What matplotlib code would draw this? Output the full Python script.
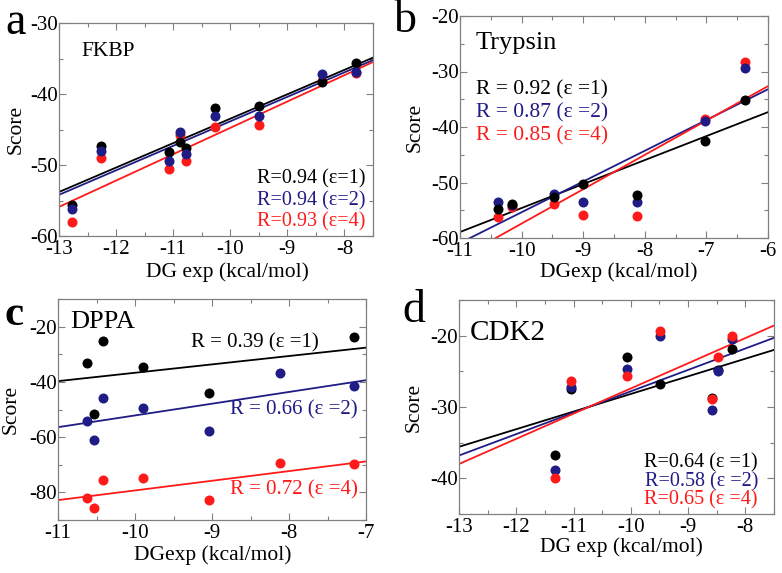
import numpy as np
import matplotlib
matplotlib.use("Agg")
import matplotlib.pyplot as plt
from matplotlib.ticker import MultipleLocator

plt.rcParams["font.family"] = ["Liberation Serif", "DejaVu Serif"]
plt.rcParams["axes.unicode_minus"] = False

# colours for eps = 1, 2, 4
colors = ["black", "#1f1c86", "#ff1a1a"]

# --- panel a: FKBP ---
a_dg = [-12.77, -12.26, -11.07, -10.88, -10.78, -10.27, -9.49, -8.39, -7.80]
a_e1 = [-55.7, -47.3, -48.1, -46.8, -47.6, -42.0, -41.7, -38.3, -35.7]
a_e2 = [-56.2, -48.0, -49.4, -45.4, -48.4, -43.1, -43.1, -37.2, -36.9]
a_e4 = [-58.0, -49.0, -50.5, -45.8, -49.4, -44.6, -44.4, -38.1, -37.0]
a_slope = [3.44, 3.45, 3.71]
a_icept = [-9.08, -9.35, -7.67]
a_r = ["R=0.94 (ε=1)", "R=0.94 (ε=2)", "R=0.93 (ε=4)"]

# --- panel b: Trypsin ---
b_dg = [-10.38, -10.15, -9.47, -9.01, -8.12, -7.02, -6.37]
b_e1 = [-54.7, -53.9, -52.6, -50.2, -52.2, -42.6, -35.2]
b_e2 = [-53.5, -54.0, -52.0, -53.5, -53.5, -38.9, -29.4]
b_e4 = [-56.3, -54.4, -53.8, -55.9, -56.1, -38.5, -28.2]
b_slope = [4.32, 5.54, 6.19]
b_icept = [-11.4, 0.04, 4.5]
b_r = ["R = 0.92 (ε =1)", "R = 0.87 (ε =2)", "R = 0.85 (ε =4)"]

# --- panel c: DPPA ---
c_dg = [-10.62, -10.53, -10.41, -9.89, -9.04, -8.12, -7.16]
c_e1 = [-33.3, -51.5, -25.2, -34.7, -44.1, np.nan, -23.7]  # one point not visible
c_e2 = [-54.3, -61.0, -46.0, -49.4, -57.9, -36.7, -41.6]
c_e4 = [-82.2, -85.6, -75.7, -74.7, -82.8, -69.5, -69.7]
c_slope = [3.03, 4.25, 3.5]
c_icept = [-6.4, -9.65, -44.3]
c_r = ["R = 0.39 (ε =1)", "R = 0.66 (ε =2)", "R = 0.72 (ε =4)"]

# --- panel d: CDK2 ---
d_dg = [-11.32, -11.04, -10.06, -9.49, -8.58, -8.47, -8.24]
d_e1 = [-36.7, -27.5, -23.0, -26.8, -28.8, -24.8, -21.8]
d_e2 = [-38.8, -27.2, -24.7, -20.0, -30.4, -25.0, -20.4]
d_e4 = [-40.0, -26.4, -25.6, -19.3, -28.9, -23.0, -20.0]
d_slope = [2.47, 3.0, 3.53]
d_icept = [-3.47, 2.2, 7.9]
d_r = ["R=0.64 (ε =1)", "R=0.58 (ε =2)", "R=0.65 (ε =4)"]

W, H = 782, 573
fig = plt.figure(figsize=(W / 100, H / 100), dpi=100)


def make_ax(l, r, t, b):
    return fig.add_axes([l / W, 1 - b / H, (r - l) / W, (b - t) / H])


def style(ax, xlim, ylim, xmaj, ymaj, xlab, ylab_x, xlab_xy):
    ax.set_xlim(*xlim)
    ax.set_ylim(*ylim)
    ax.xaxis.set_major_locator(MultipleLocator(xmaj))
    ax.xaxis.set_minor_locator(MultipleLocator(xmaj / 2))
    ax.yaxis.set_major_locator(MultipleLocator(ymaj))
    ax.yaxis.set_minor_locator(MultipleLocator(ymaj / 2))
    ax.tick_params(which="both", direction="in", top=True, right=True,
                   color="#808080", labelsize=15)
    ax.tick_params(which="major", length=5, width=0.8)
    ax.tick_params(which="minor", length=3, width=0.8)
    ax.tick_params(axis="y", pad=1)
    ax.tick_params(axis="x", pad=3)
    for s in ax.spines.values():
        s.set_color("#808080")
        s.set_linewidth(0.9)
    ax.set_ylabel("Score", fontsize=15.5)
    ax.yaxis.set_label_coords(ylab_x, 0.5)
    ax.set_xlabel(xlab, fontsize=15.5, va="top")
    ax.xaxis.set_label_coords(*xlab_xy)


def draw(ax, dg, series, slopes, icepts, order):
    xl = np.array(ax.get_xlim())
    for i in range(3):
        ax.plot(xl, slopes[i] * xl + icepts[i], color=colors[i], lw=1.3,
                zorder=2)
    for z, i in enumerate(order):
        ax.scatter(dg, series[i], s=52, color=colors[i], zorder=3 + z,
                   linewidths=0)


# a
ax = make_ax(59, 373, 23, 236)
style(ax, (-13, -7.5), (-60, -30), 1, 10, "DG exp (kcal/mol)", -0.105,
      (0.538, -0.125))
draw(ax, a_dg, [a_e1, a_e2, a_e4], a_slope, a_icept, [2, 0, 1])
ax.text(0.073, 0.864, "FKBP", transform=ax.transAxes, fontsize=15.5,
        va="center", ha="left")
for i, y in enumerate([0.268, 0.164, 0.066]):
    ax.text(0.975, y, a_r[i], transform=ax.transAxes, fontsize=14.5,
            color=colors[i], ha="right", va="center")

# b
ax = make_ax(460, 768, 16, 238)
style(ax, (-11, -6), (-60, -20), 1, 10, "DGexp (kcal/mol)", -0.115,
      (0.516, -0.11))
draw(ax, b_dg, [b_e1, b_e2, b_e4], b_slope, b_icept, [2, 1, 0])
ax.text(0.052, 0.878, "Trypsin", transform=ax.transAxes, fontsize=19,
        va="center", ha="left")
for i, y in enumerate([0.667, 0.563, 0.459]):
    ax.text(0.052, y, b_r[i], transform=ax.transAxes, fontsize=15.5,
            color=colors[i], ha="left", va="center")

# c
ax = make_ax(58, 366, 299, 520)
style(ax, (-11, -7), (-90, -10), 1, 20, "DGexp (kcal/mol)", -0.12,
      (0.503, -0.115))
draw(ax, c_dg, [c_e1, c_e2, c_e4], c_slope, c_icept, [0, 1, 2])
ax.text(0.039, 0.896, "DPPA", transform=ax.transAxes, fontsize=19,
        va="center", ha="left")
ax.text(0.432, 0.801, c_r[0], transform=ax.transAxes, fontsize=15,
        color=colors[0], ha="left", va="center")
ax.text(0.974, 0.498, c_r[1], transform=ax.transAxes, fontsize=15,
        color=colors[1], ha="right", va="center")
ax.text(0.974, 0.136, c_r[2], transform=ax.transAxes, fontsize=15,
        color=colors[2], ha="right", va="center")

# d
ax = make_ax(459, 774, 300, 514)
style(ax, (-13, -7.5), (-45, -15), 1, 10, "DG exp (kcal/mol)", -0.112,
      (0.516, -0.11))
draw(ax, d_dg, [d_e1, d_e2, d_e4], d_slope, d_icept, [0, 1, 2])
ax.text(0.035, 0.846, "CDK2", transform=ax.transAxes, fontsize=21,
        va="center", ha="left")
for i, y in enumerate([0.238, 0.150, 0.065]):
    ax.text(0.949, y, d_r[i], transform=ax.transAxes, fontsize=14.5,
            color=colors[i], ha="right", va="center")

# panel letters
fig.text(5 / W, 1 - 34 / H, "a", fontsize=33, ha="left", va="baseline")
fig.text(394 / W, 1 - 32 / H, "b", fontsize=33, ha="left", va="baseline")
fig.text(4 / W, 1 - 325 / H, "c", fontsize=31, fontweight="bold",
         ha="left", va="baseline")
fig.text(402 / W, 1 - 322 / H, "d", fontsize=33, ha="left", va="baseline")

fig.savefig("out.png", dpi=100)
